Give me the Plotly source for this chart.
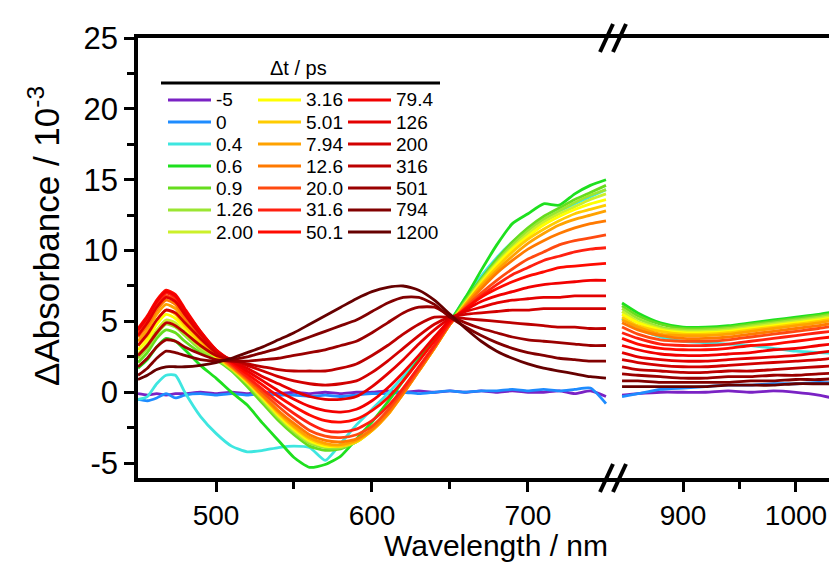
import plotly.graph_objects as go

# ---------------- data ----------------
WL_LEFT = [450, 456, 462, 468, 474, 480, 490, 500, 510, 520, 530, 540, 550, 560, 570,
           580, 590, 600, 610, 620, 630, 640, 650, 660, 670, 680, 690, 700, 710, 720,
           730, 740, 750]
WL_RIGHT = [846, 860, 880, 900, 920, 940, 960, 980, 1000, 1020, 1043]

DELAYS = ["-5", "0", "0.4", "0.6", "0.9", "1.26", "2.00", "3.16", "5.01", "7.94", "12.6",
          "20.0", "31.6", "50.1", "79.4", "126", "200", "316", "501", "794", "1200"]
COLORS = ["#7a22c4", "#1e8cff", "#3ee6e0", "#1ee01e", "#66dd1e", "#9be632", "#ccf02a",
          "#ffff00", "#ffcc00", "#ffa200", "#ff7a00", "#ff4a10", "#ff2010", "#ff0a00",
          "#f20000", "#e40000", "#d20000", "#bc0000", "#9a0000", "#820000", "#660000"]

L_m5 = [-0.1, -0.2, -0.1, -0.2, -0.1, -0.1, 0.0, -0.1, 0.0, -0.1, 0.0, -0.1, 0.0, -0.1, 0.0,
        -0.1, 0.0, 0.0, 0.1, 0.0, 0.1, 0.0, 0.1, 0.0, 0.1, 0.0, 0.1, 0.0, 0.0, 0.1, -0.1, 0.1, -0.3]
L_0 = [-0.5, -0.6, -0.4, -0.1, -0.4, -0.2, -0.1, -0.2, -0.1, -0.2, -0.1, -0.2, -0.2, -0.3, -0.2,
       -0.3, -0.2, -0.1, -0.1, 0.0, -0.1, 0.0, 0.1, 0.0, 0.1, 0.1, 0.2, 0.1, 0.2, 0.1, 0.2, 0.3, -0.8]
L_0p4 = [-0.5, -0.3, 0.6, 1.2, 1.2, 0.0, -1.7, -2.9, -3.8, -4.2, -4.1, -3.9, -3.8, -3.9, -4.8,
         -3.6, -2.3, -1.2, -0.1, 1.1, 2.4, 3.8, 5.0, 6.7, 8.2, 9.5, 10.6, 11.5, 12.2, 12.8, 13.3, 13.8, 14.3]
L_0p6 = [1.7, 2.3, 3.2, 3.8, 3.6, 3.0, 1.9, 1.0, 0.0, -0.9, -2.2, -3.4, -4.6, -5.3, -5.1,
         -4.5, -3.3, -2.1, -0.7, 0.8, 2.3, 3.8, 5.0, 6.7, 8.6, 10.4, 11.9, 12.6, 13.3, 13.2, 14.0, 14.6, 15.0]
L_0p9 = [2.1, 2.8, 3.8, 4.4, 4.2, 3.6, 2.8, 2.3, 1.5, 0.4, -0.8, -2.0, -3.0, -3.8, -4.1,
         -4.0, -3.5, -2.6, -1.3, 0.2, 1.7, 3.3, 4.9, 6.5, 8.0, 9.4, 10.6, 11.6, 12.4, 13.0, 13.6, 14.1, 14.6]
L_1p26 = [2.4, 3.1, 4.1, 4.8, 4.6, 4.0, 3.0, 2.4, 1.6, 0.6, -0.6, -1.8, -2.8, -3.6, -3.9,
          -3.9, -3.5, -2.6, -1.4, 0.1, 1.6, 3.2, 4.8, 6.4, 7.9, 9.2, 10.4, 11.4, 12.2, 12.8, 13.4, 13.9, 14.3]
L_2p00 = [2.7, 3.4, 4.4, 5.1, 4.9, 4.2, 3.2, 2.5, 1.7, 0.7, -0.5, -1.7, -2.7, -3.5, -3.8,
          -3.8, -3.5, -2.7, -1.5, 0.0, 1.5, 3.1, 4.8, 6.3, 7.8, 9.1, 10.2, 11.2, 12.0, 12.6, 13.1, 13.6, 14.0]
L_3p16 = [3.0, 3.7, 4.8, 5.5, 5.2, 4.5, 3.4, 2.5, 1.7, 0.7, -0.4, -1.6, -2.6, -3.4, -3.8,
          -3.8, -3.5, -2.7, -1.5, 0.0, 1.5, 3.1, 4.8, 6.3, 7.7, 9.0, 10.1, 11.0, 11.8, 12.4, 12.9, 13.3, 13.6]
L_5p01 = [3.3, 4.0, 5.1, 5.8, 5.5, 4.7, 3.5, 2.6, 1.7, 0.8, -0.3, -1.5, -2.5, -3.3, -3.7,
          -3.8, -3.5, -2.7, -1.6, -0.1, 1.5, 3.1, 4.8, 6.2, 7.6, 8.8, 9.9, 10.8, 11.5, 12.1, 12.6, 12.9, 13.2]
L_7p94 = [3.6, 4.4, 5.5, 6.2, 5.9, 5.0, 3.7, 2.6, 1.8, 0.8, -0.3, -1.4, -2.4, -3.2, -3.6,
          -3.7, -3.4, -2.7, -1.6, -0.1, 1.5, 3.1, 4.8, 6.2, 7.5, 8.6, 9.6, 10.5, 11.2, 11.8, 12.2, 12.5, 12.8]
L_12p6 = [3.9, 4.7, 5.8, 6.5, 6.2, 5.2, 3.8, 2.7, 1.8, 0.9, -0.2, -1.3, -2.2, -3.0, -3.4,
          -3.5, -3.3, -2.6, -1.5, -0.1, 1.5, 3.1, 4.8, 6.1, 7.3, 8.4, 9.3, 10.1, 10.7, 11.2, 11.6, 11.9, 12.1]
L_20p0 = [4.2, 5.0, 6.1, 6.8, 6.5, 5.5, 4.0, 2.8, 1.9, 1.0, 0.0, -1.0, -1.9, -2.7, -3.1,
          -3.2, -3.0, -2.4, -1.3, 0.1, 1.6, 3.2, 4.8, 6.0, 7.0, 7.9, 8.7, 9.4, 9.9, 10.4, 10.7, 10.9, 11.1]
L_31p6 = [4.4, 5.2, 6.3, 7.0, 6.7, 5.7, 4.2, 2.9, 2.0, 1.1, 0.2, -0.7, -1.5, -2.2, -2.7,
          -2.8, -2.6, -2.0, -1.0, 0.3, 1.8, 3.3, 4.9, 5.9, 6.8, 7.6, 8.3, 8.8, 9.3, 9.6, 9.9, 10.1, 10.2]
L_50p1 = [4.5, 5.4, 6.5, 7.2, 6.9, 5.9, 4.3, 3.0, 2.1, 1.3, 0.5, -0.3, -1.0, -1.6, -2.0,
          -2.1, -1.9, -1.3, -0.4, 0.8, 2.2, 3.6, 5.0, 5.9, 6.7, 7.3, 7.8, 8.2, 8.5, 8.8, 8.9, 9.0, 9.1]
L_79p4 = [4.4, 5.3, 6.4, 7.1, 6.8, 5.8, 4.3, 3.0, 2.2, 1.5, 0.8, 0.1, -0.5, -1.0, -1.3,
          -1.4, -1.2, -0.6, 0.3, 1.4, 2.6, 3.9, 5.1, 5.8, 6.4, 6.8, 7.1, 7.4, 7.6, 7.7, 7.8, 7.9, 7.9]
L_126 = [4.0, 4.9, 6.0, 6.7, 6.4, 5.5, 4.1, 2.9, 2.2, 1.7, 1.1, 0.6, 0.1, -0.3, -0.5,
         -0.5, -0.3, 0.4, 1.3, 2.3, 3.4, 4.4, 5.2, 5.7, 6.0, 6.3, 6.5, 6.6, 6.7, 6.7, 6.8, 6.8, 6.8]
L_200 = [3.3, 4.1, 5.1, 5.8, 5.6, 4.9, 3.8, 2.8, 2.3, 1.9, 1.5, 1.1, 0.8, 0.6, 0.5,
         0.6, 0.8, 1.4, 2.2, 3.1, 4.0, 4.8, 5.3, 5.5, 5.6, 5.7, 5.8, 5.8, 5.9, 5.9, 5.9, 5.9, 5.9]
L_316 = [2.6, 3.3, 4.2, 4.9, 4.7, 4.2, 3.3, 2.6, 2.3, 2.0, 1.8, 1.6, 1.5, 1.5, 1.5,
         1.7, 2.0, 2.6, 3.3, 4.1, 4.8, 5.3, 5.3, 5.2, 5.1, 5.0, 4.9, 4.8, 4.7, 4.6, 4.6, 4.5, 4.5]
L_501 = [1.8, 2.4, 3.2, 3.7, 3.6, 3.2, 2.7, 2.3, 2.2, 2.2, 2.3, 2.4, 2.6, 2.8, 3.0,
         3.3, 3.6, 4.2, 4.9, 5.6, 6.0, 6.0, 5.4, 4.9, 4.5, 4.2, 3.9, 3.7, 3.6, 3.5, 3.4, 3.3, 3.3]
L_794 = [1.2, 1.7, 2.4, 2.9, 2.8, 2.6, 2.3, 2.2, 2.3, 2.5, 2.8, 3.1, 3.5, 3.9, 4.3,
         4.7, 5.1, 5.7, 6.3, 6.7, 6.7, 6.2, 5.3, 4.6, 4.0, 3.5, 3.1, 2.8, 2.6, 2.4, 2.3, 2.2, 2.2]
L_1200 = [0.9, 1.2, 1.6, 1.8, 1.8, 1.8, 1.9, 2.1, 2.4, 2.8, 3.2, 3.7, 4.2, 4.8, 5.4,
          6.0, 6.6, 7.1, 7.4, 7.5, 7.2, 6.5, 5.5, 4.5, 3.6, 2.9, 2.4, 2.0, 1.7, 1.5, 1.3, 1.1, 1.0]

R_m5 = [-0.2, -0.1, 0.0, 0.0, 0.0, 0.1, 0.0, 0.1, 0.0, -0.2, -0.6]
R_0 = [-0.3, -0.1, 0.2, 0.3, 0.4, 0.5, 0.5, 0.6, 0.6, 0.7, 0.6]
R_0p4 = [5.2, 4.5, 3.9, 3.6, 3.5, 3.4, 3.3, 3.1, 2.9, 2.8, 2.7]
R_0p6 = [6.3, 5.6, 4.9, 4.6, 4.6, 4.7, 4.9, 5.1, 5.3, 5.5, 5.8]
R_0p9 = [6.1, 5.4, 4.8, 4.5, 4.5, 4.6, 4.8, 5.0, 5.2, 5.4, 5.7]
R_1p26 = [5.9, 5.2, 4.6, 4.4, 4.4, 4.5, 4.7, 4.9, 5.1, 5.3, 5.6]
R_2p00 = [5.7, 5.0, 4.5, 4.3, 4.3, 4.4, 4.6, 4.8, 5.0, 5.2, 5.5]
R_3p16 = [5.5, 4.9, 4.4, 4.2, 4.2, 4.3, 4.5, 4.7, 4.9, 5.1, 5.4]
R_5p01 = [5.3, 4.7, 4.3, 4.1, 4.1, 4.2, 4.4, 4.6, 4.8, 5.0, 5.3]
R_7p94 = [5.1, 4.6, 4.1, 4.0, 4.0, 4.1, 4.3, 4.5, 4.7, 4.9, 5.2]
R_12p6 = [4.9, 4.4, 4.0, 3.8, 3.8, 3.9, 4.1, 4.3, 4.5, 4.7, 5.0]
R_20p0 = [4.6, 4.1, 3.7, 3.6, 3.6, 3.7, 3.9, 4.1, 4.3, 4.5, 4.8]
R_31p6 = [4.2, 3.8, 3.4, 3.3, 3.3, 3.4, 3.6, 3.8, 4.0, 4.2, 4.4]
R_50p1 = [3.8, 3.4, 3.1, 3.0, 3.0, 3.1, 3.3, 3.4, 3.6, 3.8, 4.0]
R_79p4 = [3.3, 3.0, 2.7, 2.6, 2.6, 2.7, 2.8, 3.0, 3.1, 3.3, 3.5]
R_126 = [2.8, 2.5, 2.3, 2.2, 2.2, 2.3, 2.4, 2.5, 2.6, 2.8, 3.0]
R_200 = [2.3, 2.1, 1.9, 1.8, 1.8, 1.9, 2.0, 2.1, 2.2, 2.3, 2.5]
R_316 = [1.8, 1.6, 1.5, 1.4, 1.4, 1.5, 1.5, 1.6, 1.7, 1.8, 1.9]
R_501 = [1.3, 1.2, 1.1, 1.0, 1.0, 1.1, 1.1, 1.2, 1.2, 1.3, 1.4]
R_794 = [0.8, 0.8, 0.7, 0.7, 0.7, 0.7, 0.8, 0.8, 0.9, 0.9, 1.0]
R_1200 = [0.4, 0.4, 0.4, 0.4, 0.4, 0.5, 0.5, 0.5, 0.6, 0.6, 0.6]

Y_TICKS = [-5, 0, 5, 10, 15, 20, 25]
Y_TICK_TEXT = ["-5", "0", "5", "10", "15", "20", "25"]
X_TICKS_LEFT = [500, 600, 700]
X_TICKS_RIGHT = [900, 1000]

LEFT = [L_m5, L_0, L_0p4, L_0p6, L_0p9, L_1p26, L_2p00, L_3p16, L_5p01, L_7p94, L_12p6,
        L_20p0, L_31p6, L_50p1, L_79p4, L_126, L_200, L_316, L_501, L_794, L_1200]
RIGHT = [R_m5, R_0, R_0p4, R_0p6, R_0p9, R_1p26, R_2p00, R_3p16, R_5p01, R_7p94, R_12p6,
         R_20p0, R_31p6, R_50p1, R_79p4, R_126, R_200, R_316, R_501, R_794, R_1200]

# ---------------- geometry helpers (pixel -> paper) ----------------
W, H = 837, 565
PL, PR, PT, PB = 130, 837, 30, 470
def px(x):
    return (x - PL) / (PR - PL)
def py(y):
    return (PB - y) / (PB - PT)

FONT = "Liberation Sans, Arial, sans-serif"
BREAK_PX = 605

fig = go.Figure()
for name, col, yl, yr in zip(DELAYS, COLORS, LEFT, RIGHT):
    fig.add_trace(go.Scatter(x=WL_LEFT, y=yl, mode="lines", name=name, xaxis="x", yaxis="y",
                             line=dict(color=col, width=2.8, shape="spline", smoothing=0.6),
                             showlegend=False))
    fig.add_trace(go.Scatter(x=WL_RIGHT, y=yr, mode="lines", name=name, xaxis="x2", yaxis="y",
                             line=dict(color=col, width=2.8, shape="spline", smoothing=0.6),
                             showlegend=False))

axis_common = dict(ticks="outside", ticklen=10, tickwidth=3, tickcolor="black",
                   showline=True, linewidth=3.5, linecolor="black", showgrid=False,
                   zeroline=False)
x_font = dict(family=FONT, size=28, color="black")
y_font = dict(family=FONT, size=31, color="black")

fig.update_layout(
    width=W, height=H, margin=dict(l=PL, r=W - PR, t=PT, b=H - PB),
    paper_bgcolor="white", plot_bgcolor="white", showlegend=False,
    xaxis=dict(domain=[0, px(BREAK_PX)], range=[450, 754.5], anchor="y",
               tickmode="array", tickvals=X_TICKS_LEFT, mirror=True, tickfont=x_font,
               minor=dict(tickmode="array", tickvals=[550, 650], ticks="outside",
                          ticklen=7, tickwidth=3, tickcolor="black"),
               **axis_common),
    xaxis2=dict(domain=[px(BREAK_PX), 1], range=[838, 1043.4], anchor="y",
                tickmode="array", tickvals=X_TICKS_RIGHT, mirror=True, tickfont=x_font,
                minor=dict(tickmode="array", tickvals=[950], ticks="outside",
                           ticklen=7, tickwidth=3, tickcolor="black"),
                **axis_common),
    yaxis=dict(domain=[0, 1], range=[-6.05, 25], anchor="x",
               tickmode="array", tickvals=Y_TICKS, ticktext=Y_TICK_TEXT, tickfont=y_font,
               minor=dict(dtick=2.5, tick0=0, ticks="outside", ticklen=7, tickwidth=3,
                          tickcolor="black"),
               **axis_common),
)

shapes = []
# axis break marks (top and bottom)
for yc in (PT, PB):
    for xc in (BREAK_PX - 6.5, BREAK_PX + 6.5):
        shapes.append(dict(type="line", xref="paper", yref="paper",
                           x0=px(xc - 6.5), y0=py(yc + 14), x1=px(xc + 6.5), y1=py(yc - 14),
                           line=dict(color="black", width=4)))

# legend (3 columns x 7 rows) drawn as layout decoration
ROW_Y = [92, 114, 136, 158, 180, 202, 224]
COL_X = [(160, 203), (250, 293), (340, 383)]
annotations = []
for i, (name, col) in enumerate(zip(DELAYS, COLORS)):
    c, r = divmod(i, 7)
    x0, x1 = COL_X[c]
    yy = ROW_Y[r]
    shapes.append(dict(type="line", xref="paper", yref="paper",
                       x0=px(x0), y0=py(yy), x1=px(x1), y1=py(yy),
                       line=dict(color=col, width=3)))
    annotations.append(dict(text=name, xref="paper", yref="paper", x=px(x1 + 3), y=py(yy),
                            xanchor="left", yanchor="middle", showarrow=False,
                            font=dict(family=FONT, size=19, color="black")))
shapes.append(dict(type="line", xref="paper", yref="paper",
                   x0=px(153), y0=py(75), x1=px(432), y1=py(75),
                   line=dict(color="black", width=3)))
annotations.append(dict(text="Δt / ps", xref="paper", yref="paper", x=px(290), y=py(60),
                        xanchor="center", yanchor="middle", showarrow=False,
                        font=dict(family=FONT, size=20, color="black")))
# axis titles
annotations.append(dict(text="Wavelength / nm", xref="paper", yref="paper", x=px(488), y=py(537),
                        xanchor="center", yanchor="middle", showarrow=False,
                        font=dict(family=FONT, size=30, color="black")))
annotations.append(dict(text="ΔAbsorbance / 10<sup>-3</sup>", xref="paper", yref="paper",
                        x=px(36), y=py(228), xanchor="center", yanchor="middle",
                        textangle=-90, showarrow=False,
                        font=dict(family=FONT, size=35, color="black")))

fig.update_layout(shapes=shapes, annotations=annotations)
fig.write_html("out.html")
